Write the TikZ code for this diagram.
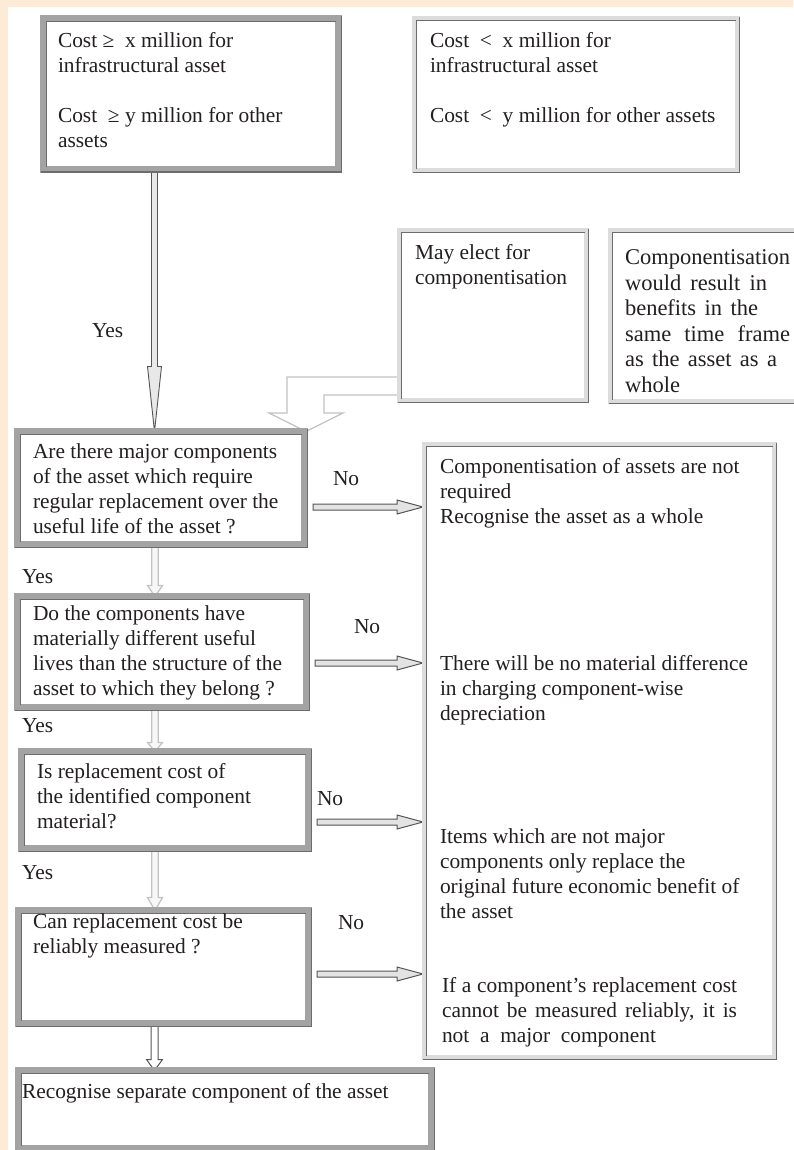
\documentclass[tikz,border=0pt]{standalone}
\usepackage{fontspec}
\setmainfont{Liberation Serif}
\usetikzlibrary{calc}
\pgfdeclarelayer{bglayer}
\pgfdeclarelayer{arrowlayer}
\pgfsetlayers{bglayer,arrowlayer,main}
\definecolor{bgorange}{HTML}{FDEBD7}
\definecolor{banddark}{HTML}{A3A3A3}
\definecolor{bandlight}{HTML}{DCDCDC}
\definecolor{edgedark}{HTML}{6C6C6C}
\definecolor{txtcol}{HTML}{231F20}
\definecolor{lightarrow}{HTML}{C2C2C2}
\definecolor{arrowline}{HTML}{555555}

\tikzset{
  box/.style={draw, fill=white, inner sep=0pt, outer sep=0pt},
  qbox/.style={box, draw=banddark, line width=7pt},
  lbox/.style={box, draw=bandlight, line width=5pt},
  txt/.style={anchor=base west, inner sep=0pt, outer sep=0pt, text=txtcol, font=\fontsize{21.4}{25}\selectfont},
  harr/.style={draw=arrowline, fill=gray!22, line width=1pt, line join=miter},
  varrlight/.style={draw=lightarrow, fill=gray!6, line width=1.2pt},
  varrdark/.style={draw=arrowline, fill=white, line width=1pt},
  mainarr/.style={draw=arrowline, fill=gray!18, line width=0.9pt},
  elbowarr/.style={draw=lightarrow, fill=white, line width=1.3pt},
}

\newcommand\boxedges[2]{%
  \draw[edgedark, line width=1.3pt] ([shift={(#2,-#2)}]#1.south west) -- ([shift={(#2,#2)}]#1.north west) -- ([shift={(-#2,#2)}]#1.north east);
  \draw[edgedark, line width=1.6pt] ([shift={(-#2,#2)}]#1.south west) -- ([shift={(#2,#2)}]#1.south east) -- ([shift={(#2,-#2)}]#1.north east);
}
\newcommand\harrow[2]{%
  \draw[harr] let \p1=(#1), \p2=(#2) in
   (\x1,\y1+3pt) -- (\x2-26pt,\y1+3pt) -- (\x2-26pt,\y1+7pt) -- (\x2,\y1) -- (\x2-26pt,\y1-7pt) -- (\x2-26pt,\y1-3pt) -- (\x1,\y1-3pt) -- cycle;}
\newcommand\varrow[6]{%
  \draw[#1] let \p1=(#2), \p2=(#3) in
   (\x1-#4,\y1) -- (\x1-#4,\y2+#6) -- (\x1-#5,\y2+#6) -- (\x1,\y2) -- (\x1+#5,\y2+#6) -- (\x1+#4,\y2+#6) -- (\x1+#4,\y1) -- cycle;}
\newcommand\lns[1]{\parbox[t]{420pt}{#1}}

\begin{document}
\begin{tikzpicture}[x=1pt,y=-1pt]
\useasboundingbox (0,0) rectangle (793,1150);
\begin{pgfonlayer}{bglayer}
\fill[bgorange] (0,0) rectangle (793,1150);
\fill[white] (7.5,7.5) rectangle (793,1150);
\end{pgfonlayer}

% boxes
\node[qbox, minimum width=295pt, minimum height=151pt] (tl) at (191,94) {};
\node[lbox, minimum width=323pt, minimum height=152pt] (tr) at (576,94.5) {};
\node[lbox, minimum width=187pt, minimum height=170pt] (me) at (493,315.5) {};
\node[lbox, minimum width=197pt, minimum height=171pt] (cw) at (709,316) {};
\node[lbox, minimum width=350pt, minimum height=613pt] (rb) at (599.5,751) {};
\node[qbox, minimum width=287pt, minimum height=113pt] (q1) at (161,488) {};
\node[qbox, minimum width=289pt, minimum height=111pt] (q2) at (162,652) {};
\node[qbox, minimum width=287pt, minimum height=97pt] (q3) at (165,800) {};
\node[qbox, minimum width=290pt, minimum height=113pt] (q4) at (163.5,967) {};
\node[qbox, minimum width=413pt, minimum height=78pt] (fn) at (225,1109.5) {};

\boxedges{tl}{2.8}
\boxedges{tr}{1.9}
\boxedges{me}{1.9}
\boxedges{cw}{1.9}
\boxedges{rb}{1.9}
\boxedges{q1}{2.8}
\boxedges{q2}{2.8}
\boxedges{q3}{2.8}
\boxedges{q4}{2.8}
\boxedges{fn}{2.8}

% texts
\node[txt] (ttl) at (58,48) {\lns{Cost ≥~ x million for\\infrastructural asset\\\mbox{}\\Cost ~≥ y million for other\\assets}};
\node[txt] (ttr) at (430,48) {\lns{Cost ~<~ x million for\\infrastructural asset\\\mbox{}\\Cost ~<~ y million for other assets}};
\node[txt] (tme) at (415,259) {\lns{May elect for\\componentisation}};
\node[txt] (tcw) at (625,265) {\parbox[t]{166pt}{\fontsize{22.5}{25.4}\selectfont Componentisation\\\makebox[142pt][s]{would result in}\\\makebox[133pt][s]{benefits in the}\\\makebox[165pt][s]{same time frame}\\\makebox[152pt][s]{as the asset as a}\\whole}};
\node[txt] (trb1) at (440,473) {\lns{Componentisation of assets are not\\required\\Recognise the asset as a whole}};
\node[txt] (trb2) at (440,670) {\lns{There will be no material difference\\in charging component-wise\\depreciation}};
\node[txt] (trb3) at (440,843) {\lns{Items which are not major\\components only replace the\\original future economic benefit of\\the asset}};
\node[txt] (trb4) at (442,992) {\lns{\makebox[295pt][s]{If a component’s replacement cost}\\\makebox[295pt][s]{cannot be measured reliably, it is}\\not~ a~ major~ component}};
\node[txt] (tq1) at (33,458) {\lns{Are there major components\\of the asset which require\\regular replacement over the\\useful life of the asset ?}};
\node[txt] (tq2) at (33,620) {\lns{Do the components have\\materially different useful\\lives than the structure of the\\asset to which they belong ?}};
\node[txt] (tq3) at (37,778) {\lns{Is replacement cost of\\the identified component\\material?}};
\node[txt] (tq4) at (33,928) {\lns{Can replacement cost be\\reliably measured ?}};
\node[txt] (tfn) at (22,1098) {Recognise separate component of the asset};

% labels
\node[txt] (yes0) at (92,337) {Yes};
\node[txt] (yes1) at (22,583) {Yes};
\node[txt] (yes2) at (22,732) {Yes};
\node[txt] (yes3) at (22,879) {Yes};
\node[txt] (no1) at (333,485) {No};
\node[txt] (no2) at (354,633) {No};
\node[txt] (no3) at (317,805) {No};
\node[txt] (no4) at (338,929) {No};

% arrows
\begin{pgfonlayer}{arrowlayer}
\varrow{mainarr}{[xshift=-36.5pt]tl.south}{q1.north}{3pt}{7pt}{65pt}
\varrow{varrlight}{[xshift=-6pt]q1.south}{q2.north}{3.3pt}{7.5pt}{11pt}
\varrow{varrlight}{[xshift=-7pt]q2.south}{q3.north}{3.3pt}{7.5pt}{9pt}
\varrow{varrlight}{[xshift=-10pt]q3.south}{q4.north}{3.3pt}{7.5pt}{13pt}
\varrow{varrdark}{[xshift=-9pt]q4.south}{fn.north}{3.5pt}{8pt}{11pt}
\harrow{[shift={(8.5,19)}]q1.east}{[xshift=-1.5pt]rb.west}
\harrow{[shift={(8.5,11)}]q2.east}{[xshift=-1.5pt]rb.west}
\harrow{[shift={(8.5,22)}]q3.east}{[xshift=-1.5pt]rb.west}
\harrow{[shift={(8.5,7)}]q4.east}{[xshift=-1.5pt]rb.west}
\draw[elbowarr] let \p1=(me.west), \p2=(q1.north) in
  (\x1+2pt,\y1-61.5pt) -- (\x1-112.5pt,\y1-61.5pt) -- (\x1-112.5pt,\y2+18.5pt) -- (\x1-130.5pt,\y2+18.5pt) -- (\x1-93.5pt,\y2) -- (\x1-56.5pt,\y2+18.5pt) -- (\x1-75.5pt,\y2+18.5pt) -- (\x1-75.5pt,\y1-79.5pt) -- (\x1+2pt,\y1-79.5pt);
\end{pgfonlayer}
\end{tikzpicture}
\end{document}
